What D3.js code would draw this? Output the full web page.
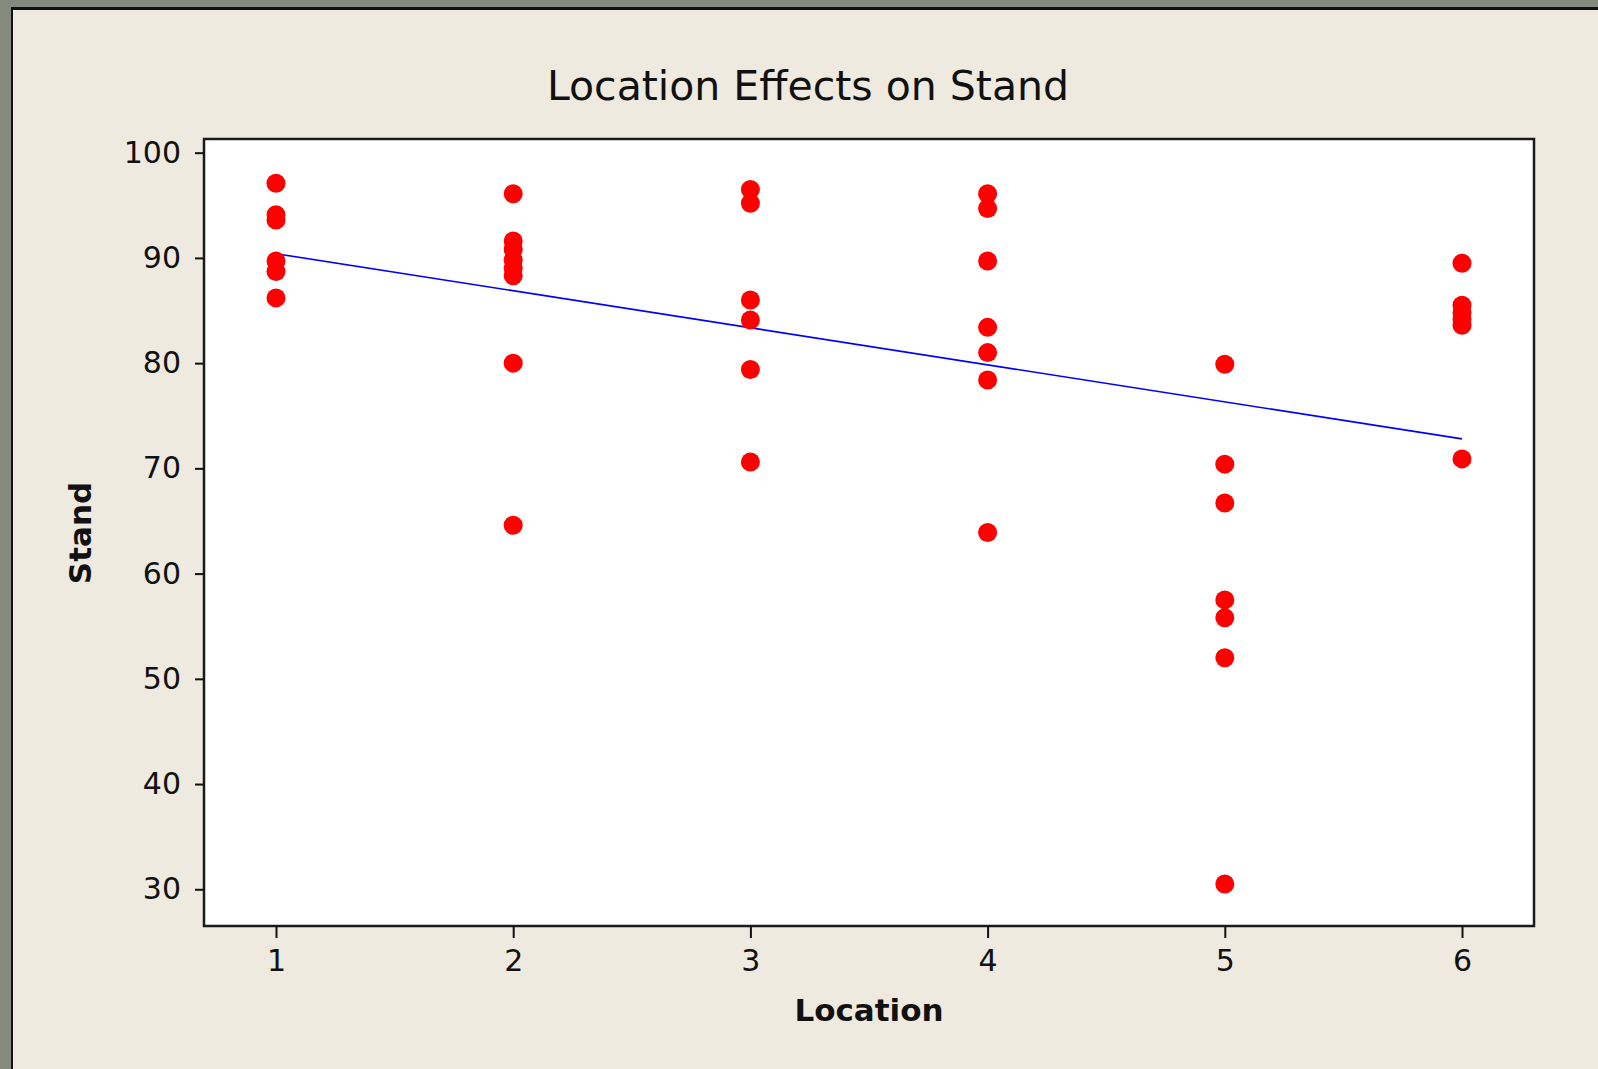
<!DOCTYPE html>
<html>
<head>
<meta charset="utf-8">
<script src="https://cdn.jsdelivr.net/npm/d3@7"></script>
<style>
  body { margin: 0; background: #858a7c; }
  svg { display: block; }
  .tick text { font-family: "DejaVu Sans", sans-serif; font-size: 30px; fill: #111; }
  .tick line { stroke: #111; stroke-width: 2; }
  .domain { display: none; }
</style>
</head>
<body>
<div id="chart"></div>
<script>
// values, one array per location
const locations = [1, 2, 3, 4, 5, 6];
const standLoc1 = [97.1, 94.1, 93.6, 89.7, 88.7, 86.2];
const standLoc2 = [96.1, 91.6, 90.8, 89.8, 89.0, 88.3, 80.0, 64.6];
const standLoc3 = [96.5, 95.2, 86.0, 84.1, 79.4, 70.6];
const standLoc4 = [96.1, 94.7, 89.7, 83.4, 81.0, 78.4, 63.9];
const standLoc5 = [79.9, 70.4, 66.7, 57.5, 55.8, 52.0, 30.5];
const standLoc6 = [89.5, 85.5, 84.8, 84.2, 83.6, 70.9];

// fitted line end points (location, stand)
const fitLine = [[1, 90.4], [6, 72.8]];

const yTicks = [30, 40, 50, 60, 70, 80, 90, 100];
const xTicks = [1, 2, 3, 4, 5, 6];

const W = 1598, H = 1069;
const plot = { left: 204, top: 139, right: 1534, bottom: 926 };

const standByLoc = [standLoc1, standLoc2, standLoc3, standLoc4, standLoc5, standLoc6];
const points = [];
locations.forEach((loc, i) => {
  standByLoc[i].forEach(v => points.push({ loc: loc, stand: v }));
});

const x = d3.scaleLinear().domain([0.6965, 6.3035]).range([plot.left, plot.right]);
const y = d3.scaleLinear().domain([26.51, 101.3]).range([plot.bottom, plot.top]);

const svg = d3.select("#chart").append("svg")
  .attr("width", W)
  .attr("height", H);

// window frame + panel
svg.append("rect").attr("width", W).attr("height", H).attr("fill", "#858a7c");
svg.append("rect").attr("x", 11).attr("y", 7).attr("width", W - 11).attr("height", H - 7).attr("fill", "#111");
svg.append("rect").attr("x", 13).attr("y", 10).attr("width", W - 13).attr("height", H - 10).attr("fill", "#eeeae0");

svg.append("rect")
  .attr("x", plot.left)
  .attr("y", plot.top)
  .attr("width", plot.right - plot.left)
  .attr("height", plot.bottom - plot.top)
  .attr("fill", "#fff")
  .attr("stroke", "#1a1a1a")
  .attr("stroke-width", 2.5);

svg.append("g")
  .attr("transform", `translate(${plot.left},0)`)
  .call(d3.axisLeft(y).tickValues(yTicks).tickFormat(d3.format("d")).tickSize(9).tickPadding(14));

svg.append("g")
  .attr("transform", `translate(0,${plot.bottom})`)
  .call(d3.axisBottom(x).tickValues(xTicks).tickFormat(d3.format("d")).tickSize(12).tickPadding(12));

svg.append("path")
  .attr("d", d3.line().x(d => x(d[0])).y(d => y(d[1]))(fitLine))
  .attr("stroke", "#0000ff")
  .attr("stroke-width", 1.6)
  .attr("fill", "none");

svg.append("g").selectAll("circle")
  .data(points)
  .join("circle")
  .attr("cx", d => x(d.loc))
  .attr("cy", d => y(d.stand))
  .attr("r", 9.5)
  .attr("fill", "#ff0000");

svg.append("text")
  .attr("x", 808)
  .attr("y", 100)
  .attr("text-anchor", "middle")
  .style("font-family", "DejaVu Sans, sans-serif")
  .style("font-size", "41px")
  .style("fill", "#111")
  .text("Location Effects on Stand");

svg.append("text")
  .attr("x", (plot.left + plot.right) / 2)
  .attr("y", 1021)
  .attr("text-anchor", "middle")
  .style("font-family", "DejaVu Sans, sans-serif")
  .style("font-weight", "bold")
  .style("font-size", "31px")
  .style("fill", "#111")
  .text("Location");

svg.append("text")
  .attr("transform", "translate(91,533) rotate(-90)")
  .attr("text-anchor", "middle")
  .style("font-family", "DejaVu Sans, sans-serif")
  .style("font-weight", "bold")
  .style("font-size", "31px")
  .style("fill", "#111")
  .text("Stand");
</script>
</body>
</html>
